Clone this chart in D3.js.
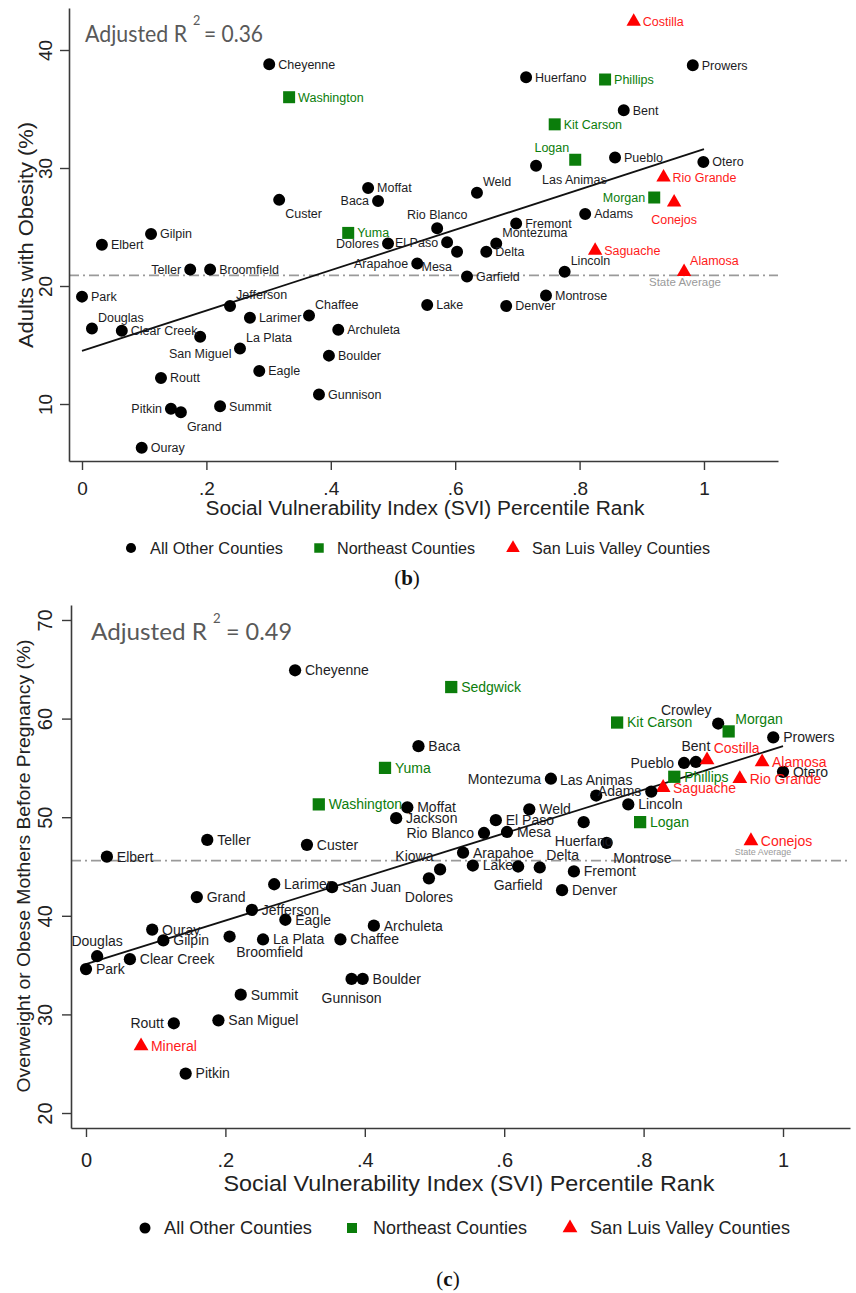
<!DOCTYPE html>
<html><head><meta charset="utf-8">
<script src="https://cdn.jsdelivr.net/npm/d3@7"></script>
<style>body{margin:0;background:#fff}svg{display:block}</style>
</head><body><svg id="chart" width="856" height="1293"></svg>
<script>
// ---------- DATA ----------
const countiesB = ["Cheyenne","Washington","Moffat","Baca","Custer","Gilpin","Yuma","Elbert","Teller","Broomfield","Park","Jefferson","Larimer","Chaffee","Douglas","Clear Creek","Archuleta","San Miguel","La Plata","Boulder","Routt","Eagle","Gunnison","Pitkin","Grand","Summit","Ouray","Weld","Rio Blanco","Fremont","Adams","Dolores","El Paso","Mesa","Arapahoe","Garfield","Delta","Montezuma","Lake","Denver","Montrose","Lincoln","Costilla","Prowers","Huerfano","Phillips","Bent","Kit Carson","Logan","Las Animas","Pueblo","Otero","Rio Grande","Morgan","Conejos","Saguache","Alamosa"];
const sviB = [0.301,0.333,0.460,0.476,0.317,0.111,0.428,0.032,0.174,0.206,0.000,0.238,0.270,0.365,0.016,0.064,0.412,0.190,0.254,0.397,0.127,0.285,0.381,0.143,0.159,0.222,0.096,0.635,0.571,0.698,0.809,0.492,0.587,0.603,0.539,0.619,0.650,0.666,0.555,0.682,0.746,0.776,0.887,0.982,0.714,0.841,0.871,0.760,0.793,0.730,0.857,0.999,0.935,0.920,0.952,0.825,0.968];
const obesityB = [38.8,36.0,28.3,27.2,27.3,24.4,24.5,23.5,21.4,21.4,19.1,18.3,17.3,17.5,16.4,16.2,16.3,15.7,14.7,14.1,12.2,12.8,10.8,9.6,9.3,9.8,6.3,27.9,24.9,25.3,26.1,23.6,23.7,22.9,21.9,20.8,22.9,23.6,18.4,18.3,19.2,21.2,42.4,38.7,37.7,37.5,34.9,33.7,30.7,30.2,30.9,30.5,29.2,27.5,27.1,23.0,21.2];

const countiesC = ["Cheyenne","Sedgwick","Crowley","Morgan","Kit Carson","Prowers","Baca","Yuma","Bent","Costilla","Pueblo","Alamosa","Otero","Rio Grande","Phillips","Saguache","Montezuma","Las Animas","Adams","Lincoln","Washington","Moffat","Jackson","Weld","El Paso","Rio Blanco","Mesa","Logan","Huerfano","Teller","Custer","Conejos","Montrose","Elbert","Arapahoe","Kiowa","Lake","Delta","Garfield","Fremont","Dolores","Denver","Larimer","San Juan","Grand","Jefferson","Eagle","Archuleta","Ouray","Gilpin","Broomfield","La Plata","Chaffee","Douglas","Clear Creek","Park","Gunnison","Boulder","Summit","San Miguel","Routt","Mineral","Pitkin"];
const sviC = [0.300,0.524,0.907,0.922,0.762,0.986,0.477,0.429,0.875,0.891,0.858,0.970,1.000,0.938,0.844,0.828,0.667,0.732,0.811,0.778,0.334,0.461,0.445,0.636,0.588,0.571,0.604,0.795,0.714,0.174,0.317,0.954,0.747,0.030,0.541,0.508,0.555,0.651,0.620,0.700,0.492,0.683,0.270,0.353,0.159,0.238,0.286,0.413,0.095,0.111,0.206,0.254,0.365,0.016,0.063,0.000,0.381,0.397,0.222,0.190,0.126,0.079,0.143];
const overweightC = [64.9,63.2,59.5,58.7,59.6,58.1,57.2,55.0,55.6,55.8,55.5,55.6,54.6,53.9,54.1,53.0,53.9,52.2,52.6,51.3,51.3,51.0,49.9,50.8,49.7,48.4,48.5,49.5,49.5,47.7,47.2,47.6,47.4,46.0,46.4,44.7,45.1,44.9,45.0,44.5,43.8,42.6,43.2,42.9,41.9,40.6,39.6,39.0,38.6,37.5,37.9,37.6,37.6,35.9,35.6,34.6,33.6,33.6,32.0,29.4,29.1,26.8,24.0];

const northeastCounties = ["Washington","Yuma","Phillips","Kit Carson","Logan","Morgan","Sedgwick"];
const slvCounties = ["Costilla","Rio Grande","Conejos","Saguache","Alamosa","Mineral"];
const groupLabels = ["All Other Counties","Northeast Counties","San Luis Valley Counties"];

const xTicks = [0,0.2,0.4,0.6,0.8,1];
const yTicksB = [10,20,30,40];
const yTicksC = [20,30,40,50,60,70];
const fitB = [14.5,31.6];   // fitted value at SVI 0 and SVI 1
const fitC = [35.1,57.2];
const stateAvgB = 20.9;
const stateAvgC = 45.6;
const r2B = "0.36";
const r2C = "0.49";

// ---------- LABEL PLACEMENT ----------
const posB = {Cheyenne:'r',Washington:'r',Moffat:'r',Baca:'l',Custer:'lr',Gilpin:'r',Yuma:'r',Elbert:'r',Teller:'l',Broomfield:'r',Park:'r',Jefferson:'ur',Larimer:'r',Chaffee:'ur',Douglas:'ur','Clear Creek':'r',Archuleta:'r','San Miguel':'d','La Plata':'ur',Boulder:'r',Routt:'r',Eagle:'r',Gunnison:'r',Pitkin:'l',Grand:'lr',Summit:'r',Ouray:'r',Weld:'ur','Rio Blanco':'u',Fremont:'r',Adams:'r',Dolores:'l','El Paso':'l',Mesa:'ll',Arapahoe:'l',Garfield:'r',Delta:'r',Montezuma:'ur',Lake:'r',Denver:'r',Montrose:'r',Lincoln:'ur',Costilla:'r',Prowers:'r',Huerfano:'r',Phillips:'r',Bent:'r','Kit Carson':'r',Logan:'ul','Las Animas':'lr',Pueblo:'r',Otero:'r','Rio Grande':'r',Morgan:'l',Conejos:'d',Saguache:'r',Alamosa:'ur'};
const posC = {Cheyenne:'r',Sedgwick:'r',Crowley:'ul',Morgan:'ur','Kit Carson':'r',Prowers:'r',Baca:'r',Yuma:'r',Bent:'u',Costilla:'ur',Pueblo:'l',Alamosa:'r',Otero:'r','Rio Grande':'r',Phillips:'r',Saguache:'r',Montezuma:'l','Las Animas':'u',Adams:'l',Lincoln:'r',Washington:'r',Moffat:'r',Jackson:'r',Weld:'r','El Paso':'r','Rio Blanco':'l',Mesa:'r',Logan:'r',Huerfano:'d',Teller:'r',Custer:'r',Conejos:'r',Montrose:'lr',Elbert:'r',Arapahoe:'r',Kiowa:'ul',Lake:'r',Delta:'ur',Garfield:'d',Fremont:'r',Dolores:'d',Denver:'r',Larimer:'r','San Juan':'r',Grand:'r',Jefferson:'r',Eagle:'r',Archuleta:'r',Ouray:'r',Gilpin:'r',Broomfield:'lr','La Plata':'r',Chaffee:'r',Douglas:'u','Clear Creek':'r',Park:'r',Gunnison:'d',Boulder:'r',Summit:'r','San Miguel':'r',Routt:'l',Mineral:'r',Pitkin:'r'};

const offs = {r:[9,0,'start'],l:[-9,0,'end'],u:[0,-14,'middle'],d:[0,17,'middle'],ur:[6,-11,'start'],ul:[-6,-12,'end'],lr:[6,14,'start'],ll:[-5,15,'end']};

const COL = {o:'#000000', n:'#0b7d0b', s:'#ff0000'};
const TXT = {o:'#1c1c24', n:'#0b7d0b', s:'#ff1a1a'};
const SANS = "'Liberation Sans', Arial, sans-serif";
const NARROW = "'Liberation Sans Narrow','Arial Narrow','Liberation Sans',Arial,sans-serif";

const svg = d3.select('#chart');
svg.append('rect').attr('width',856).attr('height',1293).attr('fill','#fff');

function groupOf(n){ return northeastCounties.includes(n)?'n':(slvCounties.includes(n)?'s':'o'); }
const symType = {o:d3.symbolCircle, n:d3.symbolSquare, s:d3.symbolTriangle};
const fmtX = v => v===0?'0':(v===1?'1':d3.format('.1f')(v).replace(/^0/,''));

function drawPanel(cfg){
  const g = svg.append('g');
  const x = d3.scaleLinear().domain(cfg.xDom).range(cfg.xRange);
  const y = d3.scaleLinear().domain(cfg.yDom).range(cfg.yRange);
  const y0 = cfg.yRange[0], x0 = cfg.xRange[0];

  // state average line
  g.append('line').attr('x1',cfg.xRange[0]).attr('x2',cfg.xRange[1])
    .attr('y1',y(cfg.avg)).attr('y2',y(cfg.avg))
    .attr('stroke','#9a9a9a').attr('stroke-width',1.6).attr('stroke-dasharray','10,4,2,4');
  g.append('text').attr('x',cfg.avgLbl[0]).attr('y',y(cfg.avg)+cfg.avgLbl[1])
    .attr('text-anchor','middle').attr('dy','0.35em')
    .attr('font-family',SANS).attr('font-size',cfg.avgLbl[2]).attr('fill','#9a9a9a')
    .text('State Average');

  // x axis
  const xa = g.append('g').attr('transform',`translate(0,${y0})`)
    .call(d3.axisBottom(x).tickValues(xTicks).tickSize(9).tickSizeOuter(0).tickFormat(fmtX));
  xa.select('.domain').attr('stroke','#3a3a3a').attr('stroke-width',1.6);
  xa.selectAll('.tick line').attr('stroke','#3a3a3a').attr('stroke-width',1.4);
  xa.selectAll('.tick text').attr('y',cfg.xTickDy).attr('dy','0.35em')
    .attr('font-family',SANS).attr('font-size',cfg.tickFs).attr('fill','#222');

  // y axis
  const ya = g.append('g').attr('transform',`translate(${x0},0)`)
    .call(d3.axisLeft(y).tickValues(cfg.yTicks).tickSize(9).tickSizeOuter(0));
  ya.select('.domain').attr('stroke','#3a3a3a').attr('stroke-width',1.6);
  ya.selectAll('.tick line').attr('stroke','#3a3a3a').attr('stroke-width',1.4);
  ya.selectAll('.tick text').attr('transform','rotate(-90)').attr('x',0).attr('y',-cfg.yTickDx)
    .attr('dy','0.35em').attr('text-anchor','middle')
    .attr('font-family',SANS).attr('font-size',cfg.tickFs).attr('fill','#222');

  // fitted line
  g.append('line').attr('x1',x(0)).attr('y1',y(cfg.fit[0])).attr('x2',x(1)).attr('y2',y(cfg.fit[1]))
    .attr('stroke','#111').attr('stroke-width',1.8);

  // points
  const data = cfg.names.map((n,i)=>({name:n, sx:cfg.xs[i], v:cfg.vs[i], grp:groupOf(n)}));
  g.selectAll('path.pt').data(data).enter().append('path').attr('class','pt')
    .attr('transform',d=>`translate(${x(d.sx)},${y(d.v)})`)
    .attr('d',d=>d3.symbol().type(symType[d.grp]).size(d.grp==='o'?cfg.ms[0]:(d.grp==='n'?cfg.ms[1]:cfg.ms[2]))())
    .attr('fill',d=>COL[d.grp]);

  // labels
  const k = cfg.k;
  g.selectAll('text.lbl').data(data).enter().append('text').attr('class','lbl')
    .each(function(d){
      const o = offs[cfg.pos[d.name]||'r'];
      d3.select(this).attr('x',x(d.sx)+o[0]*k).attr('y',y(d.v)+o[1]*k).attr('text-anchor',o[2]);
    })
    .attr('dy','0.35em').attr('font-family',SANS).attr('font-size',cfg.lblFs)
    .attr('fill',d=>TXT[d.grp]).text(d=>d.name);

  // R2 annotation (three pieces fitted to the reference widths)
  const r = cfg.r2;
  const RF = "Lato, 'Open Sans', sans-serif";
  g.append('text').attr('x',r.x).attr('y',r.y).attr('font-family',RF).attr('font-size',r.fs)
    .attr('fill','#595959').attr('textLength',r.w1).attr('lengthAdjust','spacingAndGlyphs').text('Adjusted R');
  g.append('text').attr('x',r.x2).attr('y',r.y-r.fs*0.72).attr('font-family',RF).attr('font-size',r.fs*0.55)
    .attr('fill','#595959').text('2');
  g.append('text').attr('x',r.x3).attr('y',r.y).attr('font-family',RF).attr('font-size',r.fs)
    .attr('fill','#595959').attr('textLength',r.w3).attr('lengthAdjust','spacingAndGlyphs').text('= '+cfg.r2val);

  // axis titles
  g.append('text').attr('x',cfg.xTitle[0]).attr('y',cfg.xTitle[1]).attr('dy','0.35em')
    .attr('text-anchor','middle').attr('font-family',SANS).attr('font-size',cfg.xTitle[2])
    .attr('textLength',cfg.xTitle[3]).attr('lengthAdjust','spacingAndGlyphs').attr('fill','#222')
    .text('Social Vulnerability Index (SVI) Percentile Rank');
  g.append('text').attr('transform',`translate(${cfg.yTitle[0]},${cfg.yTitle[1]}) rotate(-90)`)
    .attr('dy','0.35em').attr('text-anchor','middle').attr('font-family',SANS).attr('font-size',cfg.yTitle[2])
    .attr('textLength',cfg.yTitle[3]).attr('lengthAdjust','spacingAndGlyphs').attr('fill','#222')
    .text(cfg.yLabel);

  // legend
  const L = cfg.legend;
  ['o','n','s'].forEach((grp,i)=>{
    g.append('path').attr('transform',`translate(${L.mx[i]},${L.y})`)
      .attr('d',d3.symbol().type(symType[grp]).size(L.ms[i])()).attr('fill',COL[grp]);
    g.append('text').attr('x',L.tx[i]).attr('y',L.y).attr('dy','0.35em')
      .attr('font-family',NARROW).attr('font-size',L.fs).attr('fill','#222')
      .attr('textLength',L.tw[i]).attr('lengthAdjust','spacingAndGlyphs')
      .text(groupLabels[i]);
  });

  // caption
  const cap = g.append('text').attr('x',cfg.cap[0]).attr('y',cfg.cap[1]).attr('dy','0.35em')
    .attr('text-anchor','middle').attr('font-family',"'Liberation Serif','DejaVu Serif',serif")
    .attr('font-size',21).attr('fill','#111');
  cap.append('tspan').text('(');
  cap.append('tspan').attr('font-weight','bold').text(cfg.capLetter);
  cap.append('tspan').text(')');
}

drawPanel({
  names:countiesB, xs:sviB, vs:obesityB, pos:posB,
  xDom:[-0.0209,1.1190], xRange:[69,778], yDom:[5.17,43.56], yRange:[461,8],
  yTicks:yTicksB, fit:fitB, avg:stateAvgB, avgLbl:[685,7,11.5],
  tickFs:19, xTickDy:27, yTickDx:24, ms:[113,144,90], k:1, lblFs:12.5,
  r2:{x:85,y:42,fs:23,x2:193,x3:204,w1:102,w3:59}, r2val:r2B,
  xTitle:[425,508,20,439], yTitle:[26,235,20,226], yLabel:'Adults with Obesity (%)',
  legend:{y:548, mx:[131,319,513], tx:[150,337,532], tw:[133,138,178], ms:[80,90,80], fs:16},
  cap:[407,578], capLetter:'b'
});

drawPanel({
  names:countiesC, xs:sviC, vs:overweightC, pos:posC,
  xDom:[-0.0215,1.0961], xRange:[71,850], yDom:[18.48,71.52], yRange:[1128,605],
  yTicks:yTicksC, fit:fitC, avg:stateAvgC, avgLbl:[763,-9,9],
  tickFs:20, xTickDy:32, yTickDx:26, ms:[118,150,95], k:1.1, lblFs:14,
  r2:{x:91,y:640,fs:24,x2:213,x3:226,w1:116,w3:66}, r2val:r2C,
  xTitle:[469,1183,22,491], yTitle:[24,866,18,453], yLabel:'Overweight or Obese Mothers Before Pregnancy (%)',
  legend:{y:1228, mx:[145,352,570], tx:[164,373,590], tw:[148,154,200], ms:[95,100,95], fs:18},
  cap:[448,1279], capLetter:'c'
});
</script></body></html>
